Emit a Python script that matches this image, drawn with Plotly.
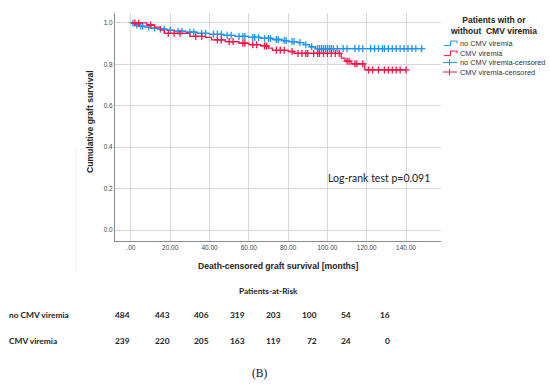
import numpy as np
import plotly.graph_objects as go

# ---------------- data ----------------
# Kaplan-Meier step events (time in months, survival after event)
no_cmv_times = [0, 2, 4, 7, 10, 14, 18, 22, 28, 34, 40, 47, 53, 60, 66, 72, 77, 80, 85, 88, 91, 94]
no_cmv_surv = [1.0, 0.99, 0.985, 0.98, 0.975, 0.97, 0.965, 0.96, 0.955, 0.95, 0.945, 0.94, 0.935,
               0.93, 0.925, 0.92, 0.915, 0.91, 0.905, 0.895, 0.885, 0.876]
no_cmv_end = 148
no_cmv_censored = [1, 3, 5, 6, 9, 12, 15, 17, 20, 24, 26, 30, 32, 36, 38, 42, 44, 46, 49, 51, 55, 57,
                   58, 62, 63, 65, 68, 70, 71, 74, 75, 78, 79, 82, 83, 86, 89, 92, 95, 96, 97, 98, 99,
                   100, 101, 102, 103, 105, 108, 110, 114, 116, 118, 122, 124, 126, 128, 129, 131,
                   133, 135, 137, 139, 141, 143, 145, 148]

cmv_times = [0, 8, 12, 15, 17, 30, 38, 41, 48, 55, 60, 66, 70, 72, 80, 83, 107, 109, 112, 119]
cmv_surv = [1.0, 0.99, 0.98, 0.965, 0.95, 0.935, 0.93, 0.918, 0.91, 0.902, 0.895, 0.889, 0.878,
            0.868, 0.862, 0.853, 0.83, 0.815, 0.803, 0.773]
cmv_end = 140
cmv_censored = [2, 4, 10, 19, 22, 25, 33, 36, 44, 46, 50, 52, 57, 58, 62, 64, 68, 69, 74, 76, 78, 82,
                85, 87, 89, 90, 93, 95, 96, 98, 100, 102, 104, 106, 110, 111, 114, 115, 118, 121,
                123, 126, 129, 131, 133, 135, 137, 140]

x_tickvals = [0, 20, 40, 60, 80, 100, 120, 140]
x_ticktext = [".00", "20.00", "40.00", "60.00", "80.00", "100.00", "120.00", "140.00"]
y_tickvals = [0.0, 0.2, 0.4, 0.6, 0.8, 1.0]
y_ticktext = ["0.0", "0.2", "0.4", "0.6", "0.8", "1.0"]

risk_groups = ["no CMV viremia", "CMV viremia"]
risk_no_cmv = [484, 443, 406, 319, 203, 100, 54, 16]
risk_cmv = [239, 220, 205, 163, 119, 72, 24, 0]

BLUE = "#1f93f0"
RED = "#fb1246"


def step_value(times, surv, t):
    i = np.searchsorted(np.asarray(times), t, side="right") - 1
    return np.asarray(surv)[i]


fig = go.Figure()

for times, surv, end, cens, col, name in [
    (no_cmv_times, no_cmv_surv, no_cmv_end, no_cmv_censored, BLUE, "no CMV viremia"),
    (cmv_times, cmv_surv, cmv_end, cmv_censored, RED, "CMV viremia"),
]:
    fig.add_trace(go.Scatter(
        x=list(times) + [end], y=list(surv) + [surv[-1]],
        mode="lines", line=dict(color=col, width=1.3, shape="hv"),
        name=name, showlegend=False, hoverinfo="skip"))
    fig.add_trace(go.Scatter(
        x=cens, y=[step_value(times, surv, t) for t in cens],
        mode="markers",
        marker=dict(symbol="cross-thin", size=5, line=dict(color=col, width=1.3), color=col),
        name=name + "-censored", showlegend=False, hoverinfo="skip"))

# ---------------- layout geometry ----------------
W, H = 550, 388
L, R, T, B = 115, 109, 13, 147
PW, PH = W - L - R, H - T - B


def fx(x):
    return (x - L) / PW


def fy(y):
    return (H - B - y) / PH


annotations = []
shapes = []

# legend (custom, compact like SPSS)
annotations.append(dict(x=fx(493), y=fy(25), xref="paper", yref="paper",
                        text="<b>Patients with or<br>without  CMV viremia</b>",
                        showarrow=False, xanchor="center", yanchor="middle",
                        font=dict(family="Liberation Sans, Arial", size=8.5, color="#222")))
leg_names = ["no CMV viremia", "CMV viremia", "no CMV viremia-censored", "CMV viremia-censored"]
leg_cols = [BLUE, RED, BLUE, RED]
leg_y = [43.3, 53.3, 62.5, 72]
for i, (nm, col, yy) in enumerate(zip(leg_names, leg_cols, leg_y)):
    annotations.append(dict(x=fx(458), y=fy(yy), xref="paper", yref="paper", text=nm,
                            showarrow=False, xanchor="left", yanchor="middle",
                            font=dict(family="Liberation Sans, Arial", size=7.4, color="#333")))
    if i < 2:
        path = "M {a},{b} L {c},{b} L {c},{d} L {e},{d} L {e},{f}".format(
            a=fx(444), b=fy(yy + 2.3), c=fx(450.5), d=fy(yy - 2.3), e=fx(457), f=fy(yy))
        shapes.append(dict(type="path", xref="paper", yref="paper", path=path,
                           line=dict(color=col, width=1)))
    else:
        shapes.append(dict(type="line", xref="paper", yref="paper", x0=fx(443), x1=fx(457),
                           y0=fy(yy), y1=fy(yy), line=dict(color=col, width=1)))
        shapes.append(dict(type="line", xref="paper", yref="paper", x0=fx(449.5), x1=fx(449.5),
                           y0=fy(yy - 3), y1=fy(yy + 3), line=dict(color=col, width=1)))

# log-rank annotation
annotations.append(dict(x=fx(432), y=fy(178), xref="paper", yref="paper",
                        text="Log-rank test p=0.091", showarrow=False,
                        xanchor="right", yanchor="middle",
                        font=dict(family="Lato, Open Sans", size=10.5, color="#222")))

# axis titles
annotations.append(dict(x=fx(278), y=fy(265.5), xref="paper", yref="paper",
                        text="<b>Death-censored graft survival [months]</b>", showarrow=False,
                        xanchor="center", yanchor="middle",
                        font=dict(family="Liberation Sans, Arial", size=8.6, color="#222")))
annotations.append(dict(x=fx(90), y=fy(122), xref="paper", yref="paper",
                        text="<b>Cumulative graft survival</b>", showarrow=False, textangle=-90,
                        xanchor="center", yanchor="middle",
                        font=dict(family="Liberation Sans, Arial", size=8.6, color="#222")))

# patients-at-risk table
annotations.append(dict(x=fx(268), y=fy(291), xref="paper", yref="paper",
                        text="<b>Patients-at-Risk</b>", showarrow=False,
                        xanchor="center", yanchor="middle",
                        font=dict(family="Lato, Open Sans", size=8.2, color="#222")))
col_right_px = [131.5, 171.5, 210.5, 246.5, 283, 318.5, 352.5, 391.5]
row_y_px = [315, 340.5]
for grp, vals, yy in zip(risk_groups, [risk_no_cmv, risk_cmv], row_y_px):
    annotations.append(dict(x=fx(7), y=fy(yy), xref="paper", yref="paper",
                            text="<b>%s</b>" % grp, showarrow=False,
                            xanchor="left", yanchor="middle",
                            font=dict(family="Lato, Open Sans", size=8.4, color="#222")))
    for v, xr in zip(vals, col_right_px):
        annotations.append(dict(x=fx(xr), y=fy(yy), xref="paper", yref="paper",
                                text="<b>%d</b>" % v, showarrow=False,
                                xanchor="right", yanchor="middle",
                                font=dict(family="Lato, Open Sans", size=8.4, color="#222")))

annotations.append(dict(x=fx(260), y=fy(373), xref="paper", yref="paper",
                        text="(B)", showarrow=False, xanchor="center", yanchor="middle",
                        font=dict(family="Liberation Serif, Times New Roman", size=11.5,
                                  color="#111")))

# faint panel border
shapes.append(dict(type="line", xref="paper", yref="paper", x0=fx(76), x1=fx(76),
                   y0=fy(150), y1=fy(272), line=dict(color="#f0f0f0", width=1)))

fig.update_layout(
    width=W, height=H,
    margin=dict(l=L, r=R, t=T, b=B),
    paper_bgcolor="white", plot_bgcolor="white",
    showlegend=False,
    annotations=annotations, shapes=shapes,
    xaxis=dict(range=[-8.1, 157.8], tickvals=x_tickvals, ticktext=x_ticktext,
               showgrid=True, gridcolor="#d8d8d8", gridwidth=1, zeroline=False,
               showline=True, linecolor="#8a8a8a", linewidth=1, ticks="",
               tickfont=dict(family="Liberation Sans, Arial", size=6.5, color="#444")),
    yaxis=dict(range=[-0.053, 1.048], tickvals=y_tickvals, ticktext=y_ticktext,
               showgrid=True, gridcolor="#d8d8d8", gridwidth=1, zeroline=False,
               showline=True, linecolor="#8a8a8a", linewidth=1, ticks="",
               tickfont=dict(family="Liberation Sans, Arial", size=6.5, color="#444")),
)

fig.write_html("out.html",
               config={"displayModeBar": False},
               post_script="document.body.style.margin='0';document.body.style.padding='0';")
